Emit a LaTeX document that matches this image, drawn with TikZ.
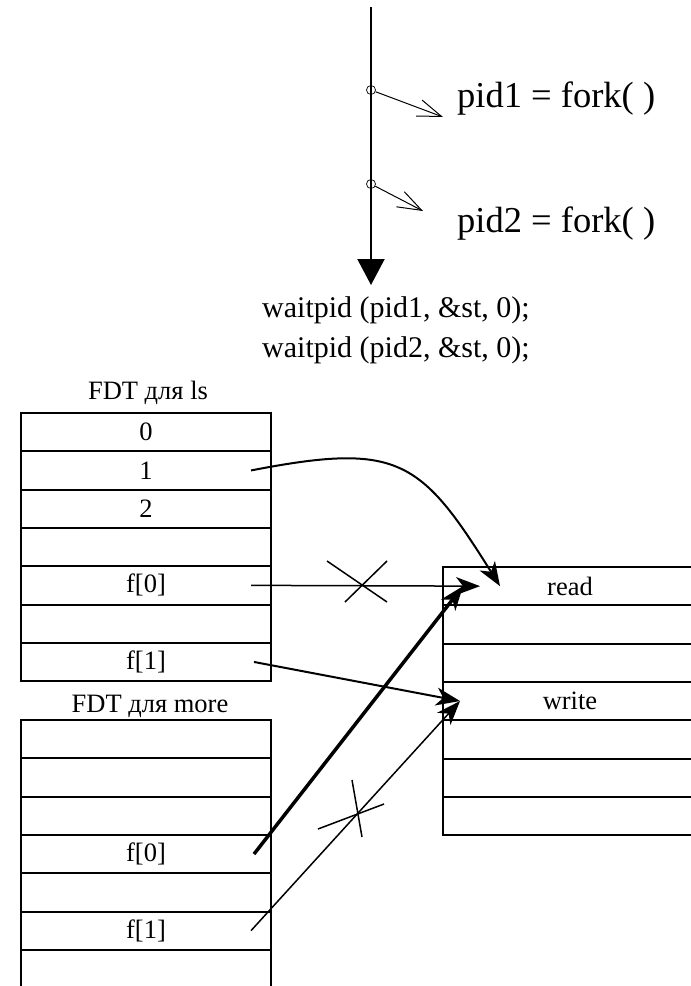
\documentclass[tikz,border=0pt]{standalone}
\usepackage{fontspec}
\setmainfont{Liberation Serif}
\usetikzlibrary{arrows.meta,positioning}

\tikzset{
	cell/.style={draw, line width=2pt, minimum width=250pt, minimum height=38.3pt,
		inner sep=0pt, anchor=north west, font=\fontsize{26.5}{30}\selectfont},
	ofcell/.style={cell, minimum width=254pt},
	title/.style={font=\fontsize{26.5}{30}\selectfont},
	link/.style={line width=1.6pt, -{Stealth[length=24pt,width=18pt,inset=7pt]}},
	forkarrow/.style={line width=1pt, -{Straight Barb[length=24pt,width=17pt]}},
	forkpoint/.style={circle, draw, line width=0.7pt, minimum size=9pt, inner sep=0pt},
}

\begin{document}
\begin{tikzpicture}[x=1pt, y=-1pt]
	\useasboundingbox (0,0) rectangle (691,986);

	% process line with two forks
	\coordinate (top) at (371,7);
	\node[forkpoint] (c1) at (371,90) {};
	\node[forkpoint] (c2) at (371,184) {};
	\coordinate (end) at (371,285);
	\draw[line width=1.2pt] (top) -- (c2.south);
	\draw[line width=2.2pt, -{Triangle[length=26pt,width=27pt]}] (c2.south) -- (end);
	\coordinate (p1) at (443,117);
	\coordinate (p2) at (423,211);
	\draw[forkarrow] (c1) -- (p1);
	\draw[forkarrow] (c2) -- (p2);
	\node[anchor=base west, inner sep=0pt, font=\fontsize{36.5}{42}\selectfont] (fork1) at (457,107) {pid1 = fork( )};
	\node[anchor=base west, inner sep=0pt, font=\fontsize{36.5}{42}\selectfont] (fork2) at (457,232) {pid2 = fork( )};
	\node[anchor=west, inner sep=0pt, align=left, font=\fontsize{30}{40}\selectfont] (wait) at (262,330)
		{waitpid (pid1, \&st, 0);\\waitpid (pid2, \&st, 0);};

	% file descriptor tables
	\node[title] (lstitle) at (148,393) {FDT для ls};
	\foreach \t [count=\i] in {0,1,2,,f[0],,f[1]}
		\node[cell] (ls-\i) at (20,{412+38.3*(\i-1)}) {\t};
	\node[title] (motitle) at (150,706) {FDT для more};
	\foreach \t [count=\i] in {,,,f[0],,f[1],}
		\node[cell] (mo-\i) at (20,{719+38.3*(\i-1)}) {\t};
	\foreach \t [count=\i] in {read,,,write,,,}
		\node[ofcell] (of-\i) at (442,{566+38.3*(\i-1)}) {\t};

	% links into the open file table
	\draw[link, line width=2pt] ([xshift=-21pt]ls-2.east) to[out=11, in=122, looseness=1.4] ([xshift=58pt]of-1.west);
	\draw[link, line width=1.5pt] ([xshift=-21pt]ls-5.east) -- ([xshift=38pt]of-1.west);
	\draw[link, line width=2pt] ([xshift=-18pt]ls-7.east) -- ([xshift=18pt]of-4.west);
	\draw[link, line width=3.5pt] ([xshift=-18pt]mo-4.east) -- ([xshift=21pt]of-1.west);
	\draw[link, line width=1.5pt] ([xshift=-21pt]mo-6.east) -- ([xshift=18pt]of-4.west);

	% closed descriptors
	\draw[line width=1.5pt] (327,561) -- (387,602) (345,602) -- (387,561);
	\draw[line width=1.5pt] (352,780) -- (362,837) (318,829) -- (384,804);
\end{tikzpicture}
\end{document}
